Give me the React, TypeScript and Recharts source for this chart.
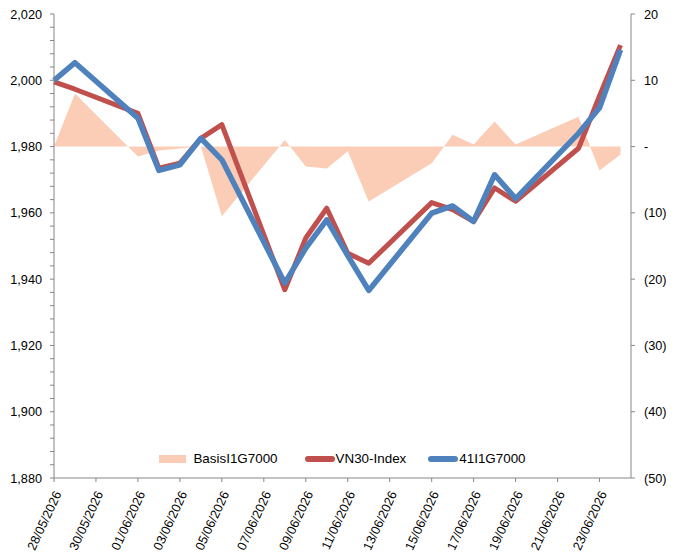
import React from 'react'
import { ComposedChart, Area, Line, XAxis, YAxis, Legend } from 'recharts'

const dates = [
  '28/05/2026', '29/05/2026', '01/06/2026', '02/06/2026', '03/06/2026',
  '04/06/2026', '05/06/2026', '08/06/2026', '09/06/2026', '10/06/2026',
  '11/06/2026', '12/06/2026', '15/06/2026', '16/06/2026', '17/06/2026',
  '18/06/2026', '19/06/2026', '22/06/2026', '23/06/2026', '24/06/2026',
]
const vn30 = [
  1999.5, 1997.3, 1990.0, 1973.5, 1975.0, 1982.5, 1986.6, 1936.8, 1952.4, 1961.4,
  1947.8, 1944.8, 1963.1, 1961.0, 1957.4, 1967.5, 1963.5, 1979.5, 1995.3, 2010.6,
]
const futures = [
  2000.0, 2005.3, 1988.6, 1972.8, 1974.5, 1982.5, 1976.0, 1938.8, 1949.4, 1957.9,
  1947.1, 1936.6, 1959.9, 1962.1, 1957.4, 1971.5, 1964.3, 1984.0, 1991.7, 2009.2,
]
const basis = [
  0, 8, -1.5, -0.6, -0.3, 0, -10.5, 1, -3, -3.3,
  -0.7, -8.3, -2.5, 1.8, 0.3, 3.8, 0.3, 4.5, -3.6, -1.2,
]
const xTickLabels = [
  '28/05/2026', '30/05/2026', '01/06/2026', '03/06/2026', '05/06/2026',
  '07/06/2026', '09/06/2026', '11/06/2026', '13/06/2026', '15/06/2026',
  '17/06/2026', '19/06/2026', '21/06/2026', '23/06/2026',
]
const rightTicks = [-50, -40, -30, -20, -10, 0, 10, 20]
// left axis: labels every 20, minor marks every 4
const leftTicks = Array.from({ length: 36 }, (_, i) => 1880 + i * 4)

const DAY = 86400000
const toTime = (s: string) => {
  const [d, m, y] = s.split('/').map(Number)
  return Date.UTC(y, m - 1, d)
}
const start = toTime(dates[0])

const data = dates.map((d, i) => ({
  t: toTime(d),
  basis: basis[i],
  vn30: vn30[i],
  futures: futures[i],
}))

const FONT = '"Liberation Sans", Arial, sans-serif'
const AXIS = '#868686'

const DateTick = (props: any) => {
  const { x, y, payload } = props
  const tx = x + 4
  const ty = y + 8
  return (
    <text
      x={tx}
      y={ty}
      transform={`rotate(-65, ${tx}, ${ty})`}
      textAnchor="end"
      dominantBaseline="central"
      fontSize={12.7}
      fontFamily={FONT}
      fill="#000"
    >
      {new Date(payload.value).toLocaleDateString('en-GB', { timeZone: 'UTC' })}
    </text>
  )
}

const LegendContent = () => (
  <div
    style={{
      display: 'flex',
      justifyContent: 'center',
      alignItems: 'center',
      fontFamily: FONT,
      fontSize: 13.4,
      color: '#000',
    }}
  >
    <div style={{ display: 'flex', alignItems: 'center', marginRight: 27 }}>
      <div style={{ width: 27, height: 8, background: '#FBCDB6', marginRight: 7 }} />
      <span>BasisI1G7000</span>
    </div>
    <div style={{ display: 'flex', alignItems: 'center', marginRight: 22 }}>
      <div style={{ width: 30, height: 6, borderRadius: 3, background: '#C0504D', marginRight: 1 }} />
      <span>VN30-Index</span>
    </div>
    <div style={{ display: 'flex', alignItems: 'center' }}>
      <div style={{ width: 30, height: 6, borderRadius: 3, background: '#4F81BD', marginRight: 1 }} />
      <span>41I1G7000</span>
    </div>
  </div>
)

export default function App() {
  return (
    <div style={{ position: 'absolute', left: 0, top: 0, width: 676, height: 559, background: '#fff' }}>
      <ComposedChart
        width={676}
        height={559}
        data={data}
        margin={{ top: 14, right: 0, bottom: 0, left: 0 }}
      >
        <XAxis
          dataKey="t"
          type="number"
          domain={[start, start + 27.5 * DAY]}
          ticks={xTickLabels.map(toTime)}
          interval={0}
          height={81}
          stroke={AXIS}
          tickSize={4}
          tick={<DateTick />}
        />
        <YAxis
          yAxisId="left"
          orientation="left"
          domain={[1880, 2020]}
          ticks={leftTicks}
          interval={0}
          width={54}
          stroke={AXIS}
          tickSize={4}
          tickMargin={8}
          tick={{ fill: '#000', fontSize: 12.7, fontFamily: FONT }}
          tickFormatter={(v: number) => (v % 20 === 0 ? v.toLocaleString('en-US') : '')}
        />
        <YAxis
          yAxisId="right"
          orientation="right"
          domain={[-50, 20]}
          ticks={rightTicks}
          interval={0}
          width={45}
          stroke={AXIS}
          tickSize={4}
          tickMargin={9}
          tick={{ fill: '#000', fontSize: 12.7, fontFamily: FONT }}
          tickFormatter={(v: number) => (v === 0 ? '-' : v < 0 ? `(${-v})` : String(v))}
        />
        <Area
          yAxisId="right"
          dataKey="basis"
          type="linear"
          baseValue={0}
          fill="#FBCDB6"
          fillOpacity={1}
          stroke="none"
          isAnimationActive={false}
          name="BasisI1G7000"
        />
        <Line
          yAxisId="left"
          dataKey="vn30"
          type="linear"
          stroke="#C0504D"
          strokeWidth={5}
          strokeLinejoin="round"
          dot={false}
          isAnimationActive={false}
          name="VN30-Index"
        />
        <Line
          yAxisId="left"
          dataKey="futures"
          type="linear"
          stroke="#4F81BD"
          strokeWidth={5.5}
          strokeLinejoin="round"
          dot={false}
          isAnimationActive={false}
          name="41I1G7000"
        />
        <Legend
          content={<LegendContent />}
          layout="horizontal"
          verticalAlign="middle"
          wrapperStyle={{ top: 451, left: 54, width: 577 }}
        />
      </ComposedChart>
    </div>
  )
}
